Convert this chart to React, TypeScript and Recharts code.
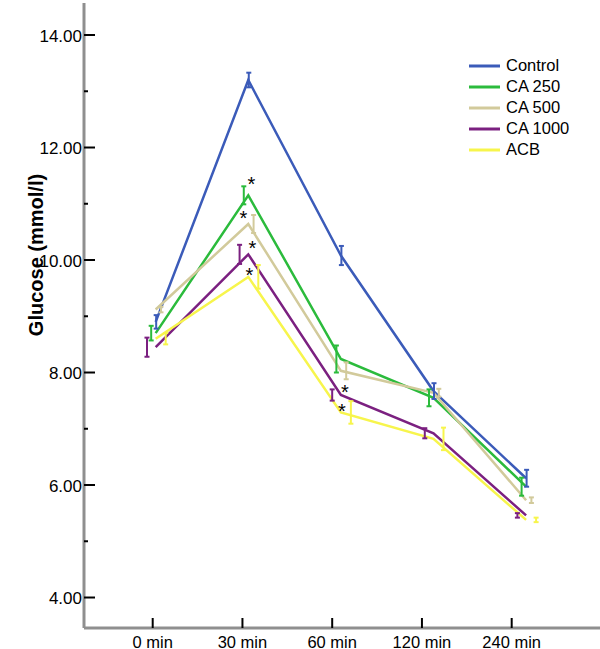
import React from 'react';
import { LineChart, Line, XAxis, YAxis, ErrorBar, Legend, LabelList } from 'recharts';

const FONT = '"Liberation Sans", Arial, Helvetica, sans-serif';

// ---- data ----
const timeLabels = ['0 min', '30 min', '60 min', '120 min', '240 min'];
const yTicks = [4, 5, 6, 7, 8, 9, 10, 11, 12, 13, 14];

const control = [8.9, 13.2, 10.08, 7.67, 6.12];
const controlErr = [0.12, 0.13, 0.17, 0.14, 0.15];
const ca250 = [8.7, 11.15, 8.24, 7.55, 5.97];
const ca250Err = [0.13, 0.16, 0.24, 0.15, 0.16];
const ca500 = [9.12, 10.64, 8.03, 7.64, 5.73];
const ca500Err = [0.05, 0.16, 0.15, 0.07, 0.05];
const ca1000 = [8.45, 10.1, 7.6, 6.92, 5.46];
const ca1000Err = [0.17, 0.17, 0.1, 0.09, 0.04];
const acb = [8.6, 9.7, 7.29, 6.82, 5.38];
const acbErr = [0.1, 0.21, 0.2, 0.2, 0.04];

const controlSig = ['', '', '', '', ''];
const ca250Sig = ['', '*', '', '', ''];
const ca500Sig = ['', '*', '', '', ''];
const ca1000Sig = ['', '*', '*', '', ''];
const acbSig = ['', '*', '*', '', ''];

// ---- series config (styles) ----
const series = [
  { key: 'control', name: 'Control', color: '#3B5BB9', values: control, errs: controlErr, sig: controlSig, dodge: 0.5, sdx: 0, sdy: 0 },
  { key: 'ca250', name: 'CA 250', color: '#2BBB3C', values: ca250, errs: ca250Err, sig: ca250Sig, dodge: -4.5, sdx: 3, sdy: -6 },
  { key: 'ca500', name: 'CA 500', color: '#D2CA9B', values: ca500, errs: ca500Err, sig: ca500Sig, dodge: 5.3, sdx: -5, sdy: -1 },
  { key: 'ca1000', name: 'CA 1000', color: '#7B2080', values: ca1000, errs: ca1000Err, sig: ca1000Sig, dodge: -8.7, sdx: 4, sdy: -1 },
  { key: 'acb', name: 'ACB', color: '#F7F54C', values: acb, errs: acbErr, sig: acbSig, dodge: 10, sdx: 1, sdy: 6 },
];

const tableData = timeLabels.map((label, i) => {
  const row: Record<string, any> = { t: i, label };
  series.forEach((s) => {
    row[s.key] = s.values[i];
    row[`${s.key}Err`] = s.errs[i];
    row[`${s.key}Top`] = s.values[i] + s.errs[i];
    row[`${s.key}Sig`] = s.sig[i];
  });
  return row;
});

// axis geometry (domains in index units)
const LINE_LO = -0.774;
const LINE_HI = 4.798;
const PX_PER_UNIT = 92.6;

const XTick = (props: any) => {
  const { x, y, payload } = props;
  return (
    <g>
      <line x1={x} x2={x} y1={y} y2={y - 10} stroke="#000" strokeWidth={2} />
      <text x={x} y={y + 19.5} textAnchor="middle" fontFamily={FONT} fontSize={16.5} fill="#000">
        {timeLabels[payload.value]}
      </text>
    </g>
  );
};

const YTick = (props: any) => {
  const { x, y, payload } = props;
  const major = payload.value % 2 === 0;
  return (
    <g>
      <line x1={x} x2={x + (major ? 11 : 4)} y1={y} y2={y} stroke="#000" strokeWidth={2} />
      {major && (
        <text x={x - 2} y={y + 6.5} textAnchor="end" fontFamily={FONT} fontSize={17} fill="#000">
          {payload.value.toFixed(2)}
        </text>
      )}
    </g>
  );
};

const makeStar = (dx: number, dy: number) => (props: any) => {
  const { x, y, value } = props;
  if (!value) return null;
  return (
    <text x={x + dx} y={y + dy + 11} textAnchor="middle" fontFamily={FONT} fontSize={20} fill="#000">
      {value}
    </text>
  );
};

const renderLegend = () => (
  <div style={{ fontFamily: FONT, fontSize: 16.5, color: '#000' }}>
    {series.map((s) => (
      <div key={s.key} style={{ display: 'flex', alignItems: 'center', height: 21 }}>
        <svg width={31} height={4} style={{ display: 'block' }}>
          <line x1={0} x2={31} y1={2} y2={2} stroke={s.color} strokeWidth={3} />
        </svg>
        <span style={{ marginLeft: 6, lineHeight: '21px', whiteSpace: 'nowrap' }}>{s.name}</span>
      </div>
    ))}
  </div>
);

export default function App() {
  return (
    <div style={{ position: 'absolute', left: 0, top: 0, width: 600, height: 649, background: '#fff' }}>
      <LineChart width={600} height={649} data={tableData} margin={{ top: 3, right: 0, bottom: 0, left: 0 }}>
        <XAxis
          xAxisId="label"
          type="number"
          dataKey="t"
          domain={[-0.7655, 4.984]}
          allowDataOverflow
          ticks={[0, 1, 2, 3, 4]}
          interval={0}
          height={21}
          tickSize={0}
          tickMargin={0}
          tickLine={false}
          axisLine={{ stroke: '#8f8f8f', strokeWidth: 3 }}
          tick={<XTick />}
        />
        <XAxis xAxisId="line" type="number" dataKey="t" domain={[LINE_LO, LINE_HI]} allowDataOverflow hide height={0} />
        {series.map((s) => (
          <XAxis
            key={`ax-${s.key}`}
            xAxisId={`err-${s.key}`}
            type="number"
            dataKey="t"
            domain={[LINE_LO - s.dodge / PX_PER_UNIT, LINE_HI - s.dodge / PX_PER_UNIT]}
            allowDataOverflow
            hide
            height={0}
          />
        ))}
        <YAxis
          type="number"
          domain={[3.458, 14.569]}
          allowDataOverflow
          ticks={yTicks}
          interval={0}
          width={84}
          tickSize={0}
          tickMargin={0}
          tickLine={false}
          axisLine={{ stroke: '#8f8f8f', strokeWidth: 3 }}
          tick={<YTick />}
          label={() => (
            <text
              x={36}
              y={255}
              transform="rotate(-90 36 255)"
              textAnchor="middle"
              dominantBaseline="central"
              fontFamily={FONT}
              fontSize={20}
              fontWeight="bold"
              fill="#000"
            >
              Glucose (mmol/l)
            </text>
          )}
        />
        <Legend
          layout="vertical"
          align="center"
          verticalAlign="middle"
          content={renderLegend}
          wrapperStyle={{ left: 469, top: 55, width: 131 }}
        />
        {series.map((s) => (
          <Line
            key={`line-${s.key}`}
            xAxisId="line"
            type="linear"
            dataKey={s.key}
            name={s.name}
            stroke={s.color}
            strokeWidth={2.5}
            dot={false}
            activeDot={false}
            isAnimationActive={false}
          />
        ))}
        {series.map((s) => (
          <Line
            key={`err-${s.key}`}
            xAxisId={`err-${s.key}`}
            dataKey={s.key}
            stroke="none"
            dot={false}
            activeDot={false}
            legendType="none"
            isAnimationActive={false}
          >
            <ErrorBar dataKey={`${s.key}Err`} width={2.5} strokeWidth={2} stroke={s.color} direction="y" />
          </Line>
        ))}
        {series.map((s) => (
          <Line
            key={`sig-${s.key}`}
            xAxisId="line"
            dataKey={`${s.key}Top`}
            stroke="none"
            dot={false}
            activeDot={false}
            legendType="none"
            isAnimationActive={false}
          >
            <LabelList dataKey={`${s.key}Sig`} content={makeStar(s.sdx, s.sdy)} />
          </Line>
        ))}
      </LineChart>
    </div>
  );
}
